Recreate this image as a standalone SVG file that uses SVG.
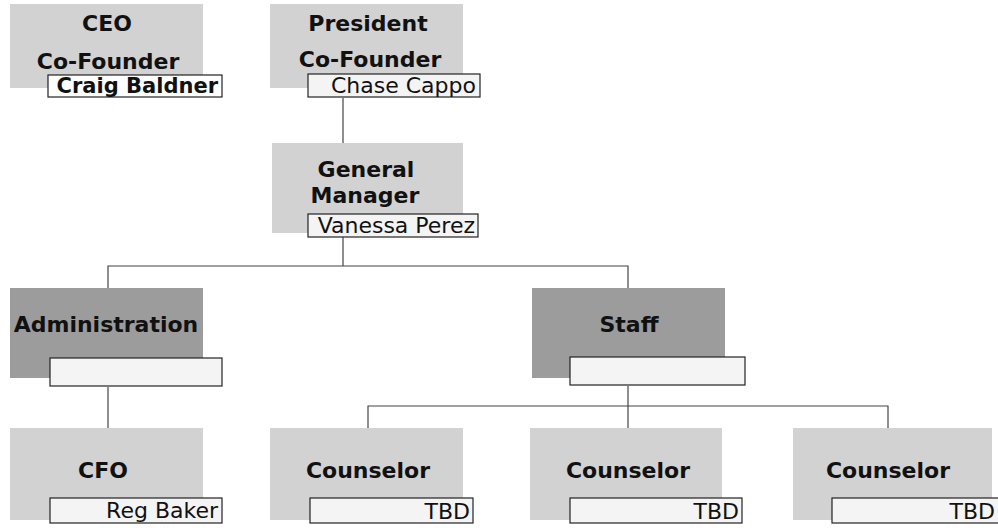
<svg xmlns="http://www.w3.org/2000/svg" width="998" height="528" viewBox="0 0 998 528">
<style>
.box{fill:#d2d2d2;}
.dark{fill:#9c9c9c;}
.nm{fill:#f4f4f4;stroke:#222;stroke-width:1.2;}
.t{font-family:"DejaVu Sans",sans-serif;font-weight:bold;font-size:22px;fill:#111;text-anchor:middle;}
.n{font-family:"DejaVu Sans",sans-serif;font-size:22px;fill:#111;text-anchor:end;}
.nb{font-weight:bold;font-size:21px;}
.c{fill:none;stroke:#444;stroke-width:1.2;}
</style>
<rect width="998" height="528" fill="#fff"/>
<g id="connectors">
<path class="c" d="M343 98V143"/>
<path class="c" d="M343 237V266H108V288M343 266H628V288"/>
<path class="c" d="M108 387V428"/>
<path class="c" d="M628 386V406H368V428M628 406H888V428M628 406V428"/>
</g>
<g id="ceo">
<rect class="box" x="10" y="4" width="193" height="84"/>
<text class="t" x="107" y="31">CEO</text>
<text class="t" x="108" y="69">Co-Founder</text>
<rect class="nm" x="48" y="75" width="174" height="22" style="fill:#fff"/>
<text class="n nb" x="218" y="93">Craig Baldner</text>
</g>
<g id="president">
<rect class="box" x="270" y="4" width="193" height="84"/>
<text class="t" x="368" y="31">President</text>
<text class="t" x="370" y="67">Co-Founder</text>
<rect class="nm" x="308" y="74" width="172" height="23"/>
<text class="n" x="476" y="93">Chase Cappo</text>
</g>
<g id="gm">
<rect class="box" x="272" y="143" width="191" height="90"/>
<text class="t" x="366" y="177">General</text>
<text class="t" x="365" y="203">Manager</text>
<rect class="nm" x="308" y="214" width="170" height="23"/>
<text class="n" x="475" y="233">Vanessa Perez</text>
</g>
<g id="administration">
<rect class="dark" x="10" y="288" width="193" height="90"/>
<text class="t" x="106" y="332">Administration</text>
<rect class="nm" x="50" y="358" width="172" height="28"/>
</g>
<g id="staff">
<rect class="dark" x="532" y="288" width="193" height="90"/>
<text class="t" x="629" y="332">Staff</text>
<rect class="nm" x="570" y="357" width="175" height="28"/>
</g>
<g id="cfo">
<rect class="box" x="10" y="428" width="193" height="92"/>
<text class="t" x="103" y="478">CFO</text>
<rect class="nm" x="50" y="498" width="172" height="25"/>
<text class="n" x="218" y="518">Reg Baker</text>
</g>
<g id="counselor1">
<rect class="box" x="270" y="428" width="193" height="92"/>
<text class="t" x="368" y="478">Counselor</text>
<rect class="nm" x="310" y="498" width="163" height="25"/>
<text class="n" x="470" y="519">TBD</text>
</g>
<g id="counselor2">
<rect class="box" x="530" y="428" width="192" height="92"/>
<text class="t" x="628" y="478">Counselor</text>
<rect class="nm" x="570" y="498" width="172" height="25"/>
<text class="n" x="739" y="519">TBD</text>
</g>
<g id="counselor3">
<rect class="box" x="793" y="428" width="199" height="92"/>
<text class="t" x="888" y="478">Counselor</text>
<rect class="nm" x="832" y="498" width="170" height="25"/>
<text class="n" x="995" y="519">TBD</text>
</g>
</svg>
